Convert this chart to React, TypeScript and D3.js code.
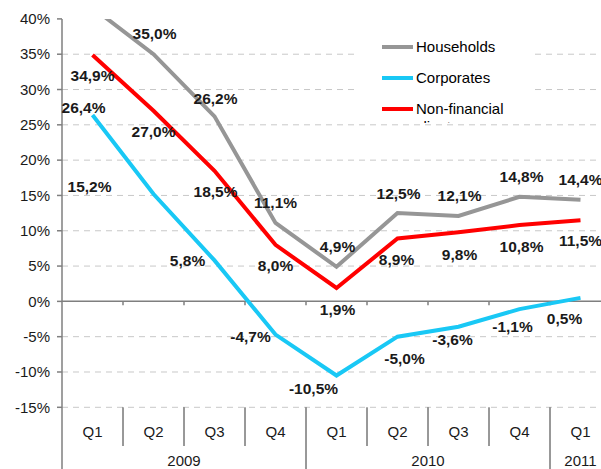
import React from "react";
import * as d3 from "d3";

const categories = ["2009Q1", "2009Q2", "2009Q3", "2009Q4", "2010Q1", "2010Q2", "2010Q3", "2010Q4", "2011Q1"];
const quarterLabels = ["Q1", "Q2", "Q3", "Q4", "Q1", "Q2", "Q3", "Q4", "Q1"];
const years = ["2009", "2010", "2011"];
const yearCounts = [4, 4, 1];

const households = [41.6, 35.0, 26.2, 11.1, 4.9, 12.5, 12.1, 14.8, 14.4];
const corporates = [26.4, 15.2, 5.8, -4.7, -10.5, -5.0, -3.6, -1.1, 0.5];
const nonFinancial = [34.9, 27.0, 18.5, 8.0, 1.9, 8.9, 9.8, 10.8, 11.5];

const yTicks = [-15, -10, -5, 0, 5, 10, 15, 20, 25, 30, 35, 40];

// label placement offsets (px) relative to each point
const householdsLabelOffsets = [[0, -20], [1, -21], [1, -18], [0, -20], [1, -20], [1, -20], [1, -20], [2, -20], [0, -20]];
const nonFinancialLabelOffsets = [[0, 21], [0, 21], [1, 21], [0, 21], [1, 22], [-1, 21], [1, 22], [2, 21], [0, 20]];
const corporatesLabelOffsets = [[-9, -7], [-64, -7], [-27, 0], [-25, 2], [-23, 13], [7, 22], [-6, 13], [-7, 17], [-16, 21]];

const W = 601;
const H = 469;
const left = 62;
const bandW = 61;
const yTop = 18.9;
const yBottom = 407.3;

const fmt = (v: number) => v.toFixed(1).replace(".", ",") + "%";

export default function App() {
  const x = d3.scaleBand<string>().domain(categories).range([left, left + bandW * categories.length]).padding(0);
  const y = d3.scaleLinear().domain([-15, 40]).range([yBottom, yTop]);
  const cx = (i: number) => (x(categories[i]) as number) + x.bandwidth() / 2;

  const line = d3
    .line<number>()
    .x((_, i) => cx(i))
    .y((d) => y(d));

  const series = [
    { name: "Households", values: households, color: "#969696", offsets: householdsLabelOffsets, labelMissing: [0] },
    { name: "Non-financial", values: nonFinancial, color: "#ff0000", offsets: nonFinancialLabelOffsets, labelMissing: [] as number[] },
    { name: "Corporates", values: corporates, color: "#19c8f5", offsets: corporatesLabelOffsets, labelMissing: [] as number[] },
  ];

  const font = "Arial, 'Liberation Sans', sans-serif";

  // year group boundaries
  let acc = 0;
  const yearGroups = years.map((yr, k) => {
    const start = acc;
    acc += yearCounts[k];
    return { yr, start, end: acc };
  });

  const legendItems = [
    { label: "Households", color: "#969696" },
    { label: "Corporates", color: "#19c8f5" },
    { label: "Non-financial", color: "#ff0000", extra: "clients" },
  ];

  return (
    <svg width={W} height={H} style={{ position: "absolute", left: 0, top: 0, background: "#fff" }} fontFamily={font}>
      <defs>
        <clipPath id="plotClip">
          <rect x={left} y={yTop} width={W - left} height={yBottom - yTop + 2} />
        </clipPath>
        <clipPath id="legendClip">
          <rect x={355} y={24} width={180} height={99} />
        </clipPath>
      </defs>
      <rect x={0} y={0} width={W} height={H} fill="#fff" />

      {/* gridlines */}
      {yTicks
        .filter((t) => t !== 0 && t !== 40)
        .map((t) => (
          <line
            key={"g" + t}
            x1={left}
            x2={W}
            y1={y(t)}
            y2={y(t)}
            stroke="#c8c8c8"
            strokeWidth={1}
            strokeDasharray="6,5"
          />
        ))}

      {/* legend box */}
      <rect x={355} y={24} width={180} height={99} fill="#fff" />
      <g clipPath="url(#legendClip)">
        {legendItems.map((it, i) => {
          const ly = 47 + i * 31;
          return (
            <g key={it.label}>
              <line x1={382} x2={413} y1={ly} y2={ly} stroke={it.color} strokeWidth={4} />
              <text x={416} y={ly} dy="0.35em" fontSize={15} fill="#000">
                {it.label}
              </text>
              {it.extra && (
                <text x={416} y={ly + 18} dy="0.35em" fontSize={15} fill="#000">
                  {it.extra}
                </text>
              )}
            </g>
          );
        })}
      </g>

      {/* y axis */}
      <line x1={left} x2={left} y1={yTop} y2={H} stroke="#7f7f7f" strokeWidth={1.5} />
      {yTicks.map((t) => (
        <g key={"t" + t}>
          <line x1={left - 5} x2={left} y1={y(t)} y2={y(t)} stroke="#7f7f7f" strokeWidth={1.5} />
          <text x={50} y={y(t)} dy="0.35em" textAnchor="end" fontSize={15} fill="#1a1a1a">
            {t + "%"}
          </text>
        </g>
      ))}

      {/* zero axis */}
      <line x1={left} x2={W} y1={y(0)} y2={y(0)} stroke="#7f7f7f" strokeWidth={1.5} />
      {categories.slice(1).map((c) => (
        <line key={"z" + c} x1={x(c) as number} x2={x(c) as number} y1={y(0)} y2={y(0) + 4} stroke="#7f7f7f" strokeWidth={1.5} />
      ))}

      {/* bottom category table */}
      {categories.map((c, i) => (
        <text key={"q" + c} x={cx(i)} y={432} dy="0.35em" textAnchor="middle" fontSize={15} fill="#1a1a1a">
          {quarterLabels[i]}
        </text>
      ))}
      {categories.slice(1).map((c, i) => {
        const isYear = yearGroups.some((g) => g.start === i + 1);
        return (
          <line
            key={"d" + c}
            x1={x(c) as number}
            x2={x(c) as number}
            y1={yBottom}
            y2={isYear ? H : 446}
            stroke="#333"
            strokeWidth={1}
          />
        );
      })}
      {yearGroups.map((g) => {
        const x0 = x(categories[g.start]) as number;
        const x1 = (x(categories[g.end - 1]) as number) + x.bandwidth();
        return (
          <text key={g.yr} x={(x0 + x1) / 2} y={461} dy="0.35em" textAnchor="middle" fontSize={15} fill="#1a1a1a">
            {g.yr}
          </text>
        );
      })}

      {/* series lines */}
      <g clipPath="url(#plotClip)">
        {series.map((s) => (
          <path key={s.name} d={line(s.values) as string} fill="none" stroke={s.color} strokeWidth={4} strokeLinejoin="miter" />
        ))}
      </g>

      {/* data labels */}
      {series.map((s) =>
        s.values.map((v, i) =>
          s.labelMissing.includes(i) ? null : (
            <text
              key={s.name + i}
              x={cx(i) + s.offsets[i][0]}
              y={y(v) + s.offsets[i][1]}
              dy="0.35em"
              textAnchor="middle"
              fontSize={15.5}
              fontWeight="bold"
              fill="#1a1a1a"
            >
              {fmt(v)}
            </text>
          )
        )
      )}
    </svg>
  );
}
